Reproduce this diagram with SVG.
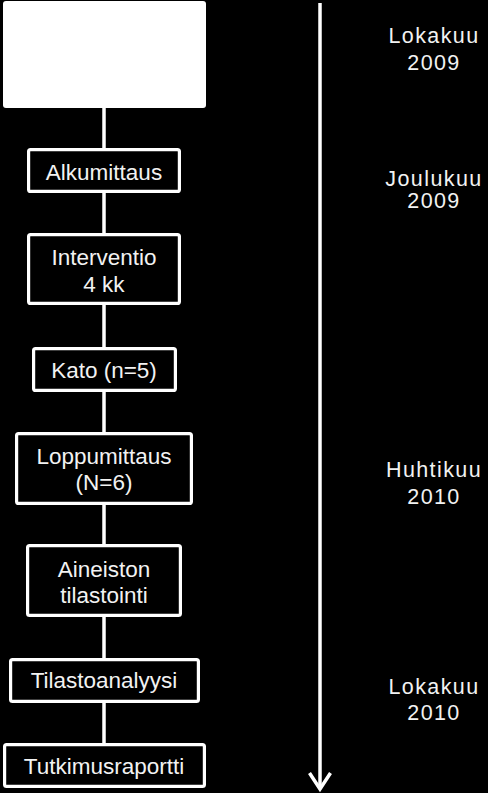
<svg xmlns="http://www.w3.org/2000/svg" width="488" height="793" viewBox="0 0 488 793">
<defs>
<style>
.box{fill:#000;stroke:#fff;stroke-width:3.2}
.t{font-family:"Liberation Sans",Arial,sans-serif;font-size:22.5px;fill:#f2f2f2;text-anchor:middle}
.d{font-family:"Liberation Sans",Arial,sans-serif;font-size:21.5px;fill:#f2f2f2;text-anchor:middle;letter-spacing:1.4px}
.c{stroke:#fff;stroke-width:3.5;fill:none}
</style>
</defs>
<rect width="488" height="793" fill="#000"/>
<g id="connectors">
<line class="c" x1="104" y1="107" x2="104" y2="744"/>
<line class="c" x1="320" y1="3" x2="320" y2="789"/>
<polyline class="c" points="309.5,773 320,789 330.5,773" stroke-linejoin="miter"/>
</g>
<g id="start"><rect x="3" y="1" width="203" height="107" rx="3" fill="#fff"/></g>
<g id="alkumittaus"><rect class="box" x="28.6" y="149.6" width="150.8" height="41.8" rx="2"/><text class="t" x="104" y="180">Alkumittaus</text></g>
<g id="interventio"><rect class="box" x="28.6" y="234.6" width="150.8" height="68.8" rx="2"/><text class="t" x="104" y="265">Interventio</text><text class="t" x="104" y="292">4 kk</text></g>
<g id="kato"><rect class="box" x="33.6" y="348.6" width="141.8" height="41.8" rx="2"/><text class="t" x="104" y="377.5">Kato (n=5)</text></g>
<g id="loppumittaus"><rect class="box" x="16.6" y="433.6" width="174.8" height="69.8" rx="2"/><text class="t" x="104" y="464">Loppumittaus</text><text class="t" x="104" y="490">(N=6)</text></g>
<g id="aineiston"><rect class="box" x="27.6" y="545.6" width="152.8" height="69.8" rx="2"/><text class="t" x="104" y="577">Aineiston</text><text class="t" x="104" y="603">tilastointi</text></g>
<g id="tilastoanalyysi"><rect class="box" x="10.6" y="659.6" width="187.8" height="41.8" rx="2"/><text class="t" x="104" y="688">Tilastoanalyysi</text></g>
<g id="tutkimusraportti"><rect class="box" x="4.6" y="744.6" width="199.8" height="41.8" rx="2"/><text class="t" x="104" y="774">Tutkimusraportti</text></g>
<g id="dates">
<text class="d" x="434" y="43">Lokakuu</text><text class="d" x="434" y="70">2009</text>
<text class="d" x="434" y="186">Joulukuu</text><text class="d" x="434" y="208">2009</text>
<text class="d" x="434" y="477">Huhtikuu</text><text class="d" x="434" y="504">2010</text>
<text class="d" x="434" y="694">Lokakuu</text><text class="d" x="434" y="720">2010</text>
</g>
</svg>
